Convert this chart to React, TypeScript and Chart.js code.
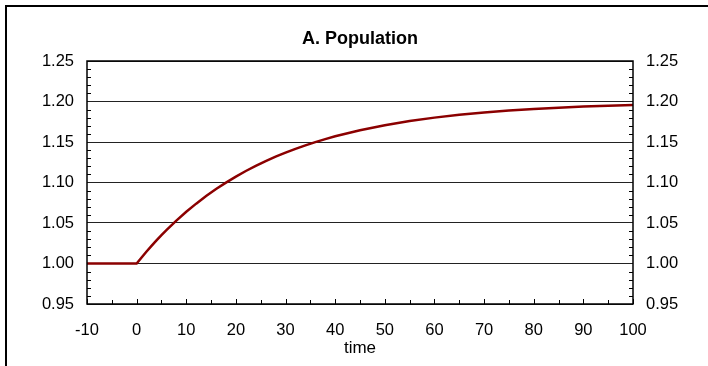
import React, { useEffect, useRef } from "react";
import { Chart, registerables } from "chart.js";

Chart.register(...registerables);

// ---- data ----
const times: number[] = [
  -10, -5, 0, 1, 2, 3, 4, 5, 6, 8, 10, 12, 14, 16, 18, 20, 22, 24, 26, 28, 30,
  32, 34, 36, 38, 40, 45, 50, 55, 60, 65, 70, 75, 80, 85, 90, 95, 100,
];
const population: number[] = [
  1.0, 1.0, 1.0, 1.0075, 1.0148, 1.0218, 1.0285, 1.035, 1.0412, 1.053, 1.0639,
  1.0739, 1.0833, 1.0919, 1.0999, 1.1073, 1.1142, 1.1205, 1.1264, 1.1319,
  1.1369, 1.1416, 1.1459, 1.1499, 1.1536, 1.1571, 1.1646, 1.1708, 1.1759,
  1.1801, 1.1836, 1.1865, 1.1888, 1.1908, 1.1924, 1.1937, 1.1948, 1.1957,
];
const xTicks: number[] = [-10, 0, 10, 20, 30, 40, 50, 60, 70, 80, 90, 100];
const xMinorTicks: number[] = [-5, 5, 15, 25, 35, 45, 55, 65, 75, 85, 95];
const yTicks: number[] = [0.95, 1.0, 1.05, 1.1, 1.15, 1.2, 1.25];
const yTickLabels: string[] = ["0.95", "1.00", "1.05", "1.10", "1.15", "1.20", "1.25"];
const chartTitle = "A. Population";
const xTitle = "time";

const FONT = "'Liberation Sans', Arial, Helvetica, sans-serif";

const setTicks = (vals: number[]) => (scale: any) => {
  scale.ticks = vals.map((v) => ({ value: v }));
};

const framePlugin = {
  id: "frameAndTicks",
  afterDatasetsDraw(chart: any) {
    const { ctx, chartArea, scales } = chart;
    const { left, right, top, bottom } = chartArea;
    const x = scales.x;
    const y = scales.y;
    ctx.save();
    ctx.strokeStyle = "#000";
    ctx.lineWidth = 1;
    ctx.beginPath();
    // y minor ticks (every 0.01) on both sides, pointing inward
    for (let i = 0; i < yTicks.length - 1; i++) {
      const a = yTicks[i];
      const b = yTicks[i + 1];
      for (let k = 1; k < 5; k++) {
        const v = a + ((b - a) * k) / 5;
        const py = Math.round(y.getPixelForValue(v)) + 0.5;
        ctx.moveTo(left, py);
        ctx.lineTo(left + 4, py);
        ctx.moveTo(right, py);
        ctx.lineTo(right - 4, py);
      }
    }
    // x ticks pointing up
    for (const v of xTicks) {
      const px = Math.round(x.getPixelForValue(v)) + 0.5;
      ctx.moveTo(px, bottom);
      ctx.lineTo(px, bottom - 5);
    }
    for (const v of xMinorTicks) {
      const px = Math.round(x.getPixelForValue(v)) + 0.5;
      ctx.moveTo(px, bottom);
      ctx.lineTo(px, bottom - 4);
    }
    ctx.stroke();
    ctx.lineWidth = 1.5;
    ctx.strokeRect(left, top, right - left, bottom - top);
    // title
    ctx.fillStyle = "#000";
    ctx.font = `bold 18px ${FONT}`;
    ctx.textAlign = "center";
    ctx.textBaseline = "alphabetic";
    ctx.fillText(chartTitle, (left + right) / 2, 44);
    ctx.restore();
  },
};

export default function App() {
  const ref = useRef<HTMLCanvasElement>(null);

  useEffect(() => {
    if (!ref.current) return;
    const chart = new Chart(ref.current, {
      type: "line",
      data: {
        datasets: [
          {
            label: "Population",
            data: times.map((t, i) => ({ x: t, y: population[i] })),
            borderColor: "#8b0000",
            borderWidth: 2.5,
            pointRadius: 0,
            tension: 0,
            fill: false,
            yAxisID: "y",
          },
        ],
      },
      options: {
        animation: false,
        responsive: false,
        maintainAspectRatio: false,
        layout: { padding: { left: 0, right: 0, top: 61, bottom: 0 } },
        plugins: {
          legend: { display: false },
          title: { display: false },
          tooltip: { enabled: false },
        },
        scales: {
          x: {
            type: "linear",
            min: -10,
            max: 100,
            afterBuildTicks: setTicks(xTicks),
            afterFit: (s: any) => {
              s.height = 62;
            },
            grid: { display: false, drawTicks: false },
            border: { display: false },
            ticks: {
              padding: 17,
              color: "#000",
              font: { family: FONT, size: 16.5 },
              maxRotation: 0,
              autoSkip: false,
            },
            title: {
              display: true,
              text: xTitle,
              color: "#000",
              font: { family: FONT, size: 17 },
              padding: { top: 0, bottom: 7 },
            },
          },
          y: {
            type: "linear",
            position: "left",
            min: 0.95,
            max: 1.25,
            afterBuildTicks: setTicks(yTicks),
            afterFit: (s: any) => {
              s.width = 87;
            },
            grid: {
              color: "#222",
              lineWidth: 1,
              drawTicks: false,
            },
            border: { display: false },
            ticks: {
              padding: 13,
              color: "#000",
              font: { family: FONT, size: 16.5 },
              autoSkip: false,
              callback: (_v: any, i: number) => yTickLabels[i],
            },
          },
          y2: {
            type: "linear",
            position: "right",
            min: 0.95,
            max: 1.25,
            afterBuildTicks: setTicks(yTicks),
            afterFit: (s: any) => {
              s.width = 75;
            },
            grid: { display: false, drawTicks: false },
            border: { display: false },
            ticks: {
              padding: 13,
              color: "#000",
              font: { family: FONT, size: 16.5 },
              autoSkip: false,
              callback: (_v: any, i: number) => yTickLabels[i],
            },
          },
        },
      },
      plugins: [framePlugin],
    });
    return () => chart.destroy();
  }, []);

  return (
    <div style={{ position: "fixed", left: 0, top: 0, width: 708, height: 366, background: "#fff", overflow: "hidden" }}>
      <div
        style={{
          position: "absolute",
          left: 5,
          top: 5,
          width: 703,
          height: 361,
          borderLeft: "2px solid #000",
          borderTop: "2px solid #000",
          boxSizing: "border-box",
        }}
      />
      <canvas ref={ref} width={708} height={366} style={{ position: "absolute", left: 0, top: 0, display: "block" }} />
    </div>
  );
}
